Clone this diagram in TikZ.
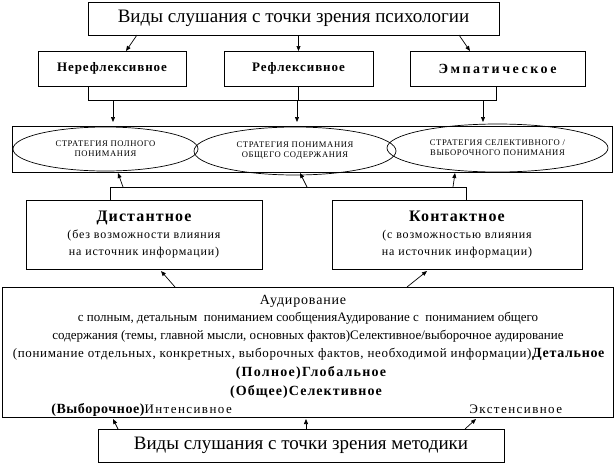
\documentclass[tikz,border=0pt]{standalone}
\usepackage{fontspec}
\setmainfont{Liberation Serif}
\newfontfamily\spaced[LetterSpace=7]{Liberation Serif}
\usetikzlibrary{shapes.geometric,arrows.meta}

\begin{document}
\begin{tikzpicture}[x=1pt,y=-1pt,line width=0.7pt,
        box/.style={draw,inner sep=0pt,outer sep=0pt,align=center},
        oval/.style={draw,ellipse,inner sep=0pt,outer sep=0pt,align=center,font=\spaced\fontsize{8.6}{10}\selectfont},
        line/.style={anchor=base,inner sep=0pt,font=\fontsize{13}{15}\selectfont},
        arr/.style={-{Triangle[length=5pt,width=4pt]}}]
        \useasboundingbox (0,0) rectangle (614,464);
        %% Psychology
        \node[box,minimum width=411pt,minimum height=33pt,font=\fontsize{19}{22}\selectfont] (psy) at (293.5,18.5) {Виды слушания с точки зрения психологии};
        \node[box,minimum width=148pt,minimum height=35pt,font=\spaced\bfseries\fontsize{13}{15}\selectfont] (nonrefl) at (112,68.5) {Нерефлексивное};
        \node[box,minimum width=149pt,minimum height=35pt,font=\spaced\bfseries\fontsize{13}{15}\selectfont] (refl) at (298.5,68.5) {Рефлексивное};
        \node[box,minimum width=175pt,minimum height=35pt,font=\spaced\bfseries\fontsize{14}{15}\selectfont\addfontfeature{LetterSpace=18}] (emp) at (497.5,68.5) {Эмпатическое};
        \draw[arr] ([xshift=49pt]psy.south west) -- ([xshift=88pt]nonrefl.north west);
        \draw[arr] (psy.south -| refl.north) -- (refl.north);
        \draw[arr] ([xshift=-40pt]psy.south east) -- ([xshift=60pt]emp.north west);
        %% Strategies
        \node[box,minimum width=600pt,minimum height=46pt] (strat) at (312,149) {};
        \node[oval,minimum width=185pt,minimum height=44pt] (full) at (105.5,149) {СТРАТЕГИЯ ПОЛНОГО\\ПОНИМАНИЯ};
        \node[oval,minimum width=202pt,minimum height=48pt] (general) at (295,151) {СТРАТЕГИЯ ПОНИМАНИЯ\\ОБЩЕГО СОДЕРЖАНИЯ};
        \node[oval,minimum width=221pt,minimum height=48pt] (select) at (497.5,148) {СТРАТЕГИЯ СЕЛЕКТИВНОГО /\\ВЫБОРОЧНОГО ПОНИМАНИЯ};
        \draw ([xshift=50pt]nonrefl.south west) -- ++(0,14) -| ([xshift=-89pt]emp.south east);
        \draw (refl.south) -- ++(0,14);
        \draw[arr] ([xshift=101pt,yshift=26pt]strat.north west) -- ([xshift=101pt,yshift=4pt]strat.north west);
        \draw[arr] ([xshift=285pt,yshift=26pt]strat.north west) -- ([xshift=285pt,yshift=4pt]strat.north west);
        \draw[arr] ([xshift=471pt,yshift=26pt]strat.north west) -- ([xshift=471pt,yshift=4pt]strat.north west);
        %% Distant / contact
        \node[box,minimum width=236pt,minimum height=69pt,font=\spaced\fontsize{12}{17}\selectfont] (dist) at (144,234.5) {{\bfseries\fontsize{16}{17}\selectfont Дистантное}\\(без возможности влияния\\на источник информации)};
        \node[box,minimum width=250pt,minimum height=69pt,font=\spaced\fontsize{12}{17}\selectfont] (kont) at (457,234.5) {{\bfseries\fontsize{16}{17}\selectfont Контактное}\\(с возможностью влияния\\на источник информации)};
        \draw ([xshift=84pt]dist.north west) -- ++(0,-13) -| ([xshift=134pt]kont.north west);
        \draw[arr] ([xshift=97pt,yshift=13pt]dist.north west) -- ([xshift=106pt,yshift=-1pt]strat.south west);
        \draw[arr] ([xshift=281pt,yshift=13pt]dist.north west) -- ([xshift=288pt,yshift=-1pt]strat.south west);
        \draw[arr] ([xshift=121pt,yshift=13pt]kont.north west) -- ([xshift=443pt,yshift=-1pt]strat.south west);
        %% Listening types
        \node[box,minimum width=611pt,minimum height=130pt] (aud) at (307.5,352) {};
        \node[line,font=\spaced\fontsize{14}{15}\selectfont\addfontfeature{LetterSpace=6}] (aud1) at (303,304) {Аудирование};
        \node[line] (aud2) at (308,321) {с полным, детальным~ пониманием сообщенияАудирование с~ пониманием общего};
        \node[line] (aud3) at (308,339) {содержания (темы, главной мысли, основных фактов)Селективное/выборочное аудирование};
        \node[line,font=\spaced\fontsize{13}{15}\selectfont\addfontfeature{LetterSpace=5}] (aud4) at (309,357) {(понимание отдельных, конкретных, выборочных фактов, необходимой информации)\textbf{\fontsize{14}{15}\selectfont Детальное}};
        \node[line,font=\spaced\bfseries\fontsize{14}{15}\selectfont\addfontfeature{LetterSpace=9}] (aud5) at (311,376) {(Полное)Глобальное};
        \node[line,font=\spaced\bfseries\fontsize{14}{15}\selectfont\addfontfeature{LetterSpace=7.5}] (aud6) at (306,395) {(Общее)Селективное};
        \node[line,anchor=base west,font=\spaced\fontsize{13}{15}\selectfont\addfontfeature{LetterSpace=11}] (aud7) at (51,413) {{\bfseries\fontsize{14}{15}\selectfont\addfontfeature{LetterSpace=4}(Выборочное)}Интенсивное};
        \node[line,anchor=base west,font=\spaced\fontsize{13}{15}\selectfont\addfontfeature{LetterSpace=11}] (aud8) at (469,413) {Экстенсивное};
        \draw[arr] ([xshift=173pt]aud.north west) -- ([xshift=135pt,yshift=-2pt]dist.south west);
        \draw[arr] ([xshift=405pt]aud.north west) -- ([xshift=95pt,yshift=-2pt]kont.south west);
        %% Methodology
        \node[box,minimum width=406pt,minimum height=33pt,font=\fontsize{19}{22}\selectfont] (meth) at (301,445.5) {Виды слушания с точки зрения методики};
        \draw[arr] ([xshift=20pt]meth.north west) -- ([xshift=111pt,yshift=-2pt]aud.south west);
        \draw[arr] ([xshift=208pt]meth.north west) -- ([xshift=304pt,yshift=-2pt]aud.south west);
        \draw[arr] ([xshift=367pt]meth.north west) -- ([xshift=474pt,yshift=-2pt]aud.south west);
\end{tikzpicture}
\end{document}
